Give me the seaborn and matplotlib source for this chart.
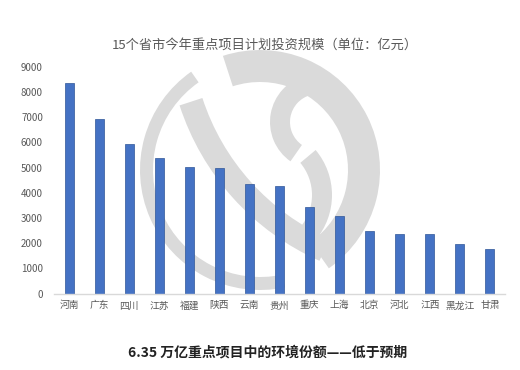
import matplotlib
matplotlib.use('Agg')
import matplotlib.pyplot as plt
from matplotlib.patches import Wedge
import seaborn as sns
import pandas as pd

provinces = ['河南', '广东', '四川', '江苏', '福建', '陕西', '云南', '贵州',
             '重庆', '上海', '北京', '河北', '江西', '黑龙江', '甘肃']
invest = [8350, 6950, 5960, 5390, 5010, 4970, 4370, 4280,
          3420, 3070, 2490, 2360, 2360, 1970, 1760]
yticks = [0, 1000, 2000, 3000, 4000, 5000, 6000, 7000, 8000, 9000]

title = '15个省市今年重点项目计划投资规模（单位：亿元）'
caption = '6.35 万亿重点项目中的环境份额——低于预期'

sns.set_style('white')
plt.rcParams['font.family'] = ['Noto Sans CJK SC', 'DejaVu Sans']

df = pd.DataFrame({'province': provinces, 'value': invest})

fig = plt.figure(figsize=(5.2, 3.7), dpi=100)

# watermark logo behind the chart (pixel coords, y up)
bg = fig.add_axes([0, 0, 1, 1], zorder=0)
bg.set_xlim(0, 520)
bg.set_ylim(0, 370)
bg.axis('off')
wm = '#dadada'
bg.add_patch(Wedge((260, 200), 120, 125, 282, width=13, color=wm, lw=0))
bg.add_patch(Wedge((260, 200), 120, -55, 108, width=32, color=wm, lw=0))
bg.add_patch(Wedge((424, 344), 257, 198, 246, width=24, color=wm, lw=0))
bg.add_patch(Wedge((318, 248), 48, 105, 235, width=20, color=wm, lw=0))
bg.add_patch(Wedge((262, 175), 70, -40, 40, width=20, color=wm, lw=0))

ax = fig.add_axes([54 / 520, 76.5 / 370, 451 / 520, 226.5 / 370], zorder=1)
ax.patch.set_alpha(0)
sns.barplot(data=df, x='province', y='value', ax=ax, color='#4472C4',
            width=0.3, edgecolor='#2F5597', linewidth=0.5, saturation=1)

ax.set_ylim(0, 9000)
ax.set_xlim(-0.5, len(provinces) - 0.5)
ax.set_yticks(yticks)
ax.set_xlabel('')
ax.set_ylabel('')
for s in ['top', 'right', 'left']:
    ax.spines[s].set_visible(False)
ax.spines['bottom'].set_color('#d9d9d9')
ax.spines['bottom'].set_linewidth(1)
ax.tick_params(axis='both', length=0, labelsize=7, colors='#595959')
ax.tick_params(axis='x', pad=5)
ax.tick_params(axis='y', pad=8)

fig.text(265 / 520, 1 - 45 / 370, title, ha='center', va='center',
         fontsize=9.5, color='#595959')
fig.text(268 / 520, 1 - 352 / 370, caption, ha='center', va='center',
         fontsize=10, fontweight='bold', color='#222222')

fig.savefig('out.png', dpi=100)
